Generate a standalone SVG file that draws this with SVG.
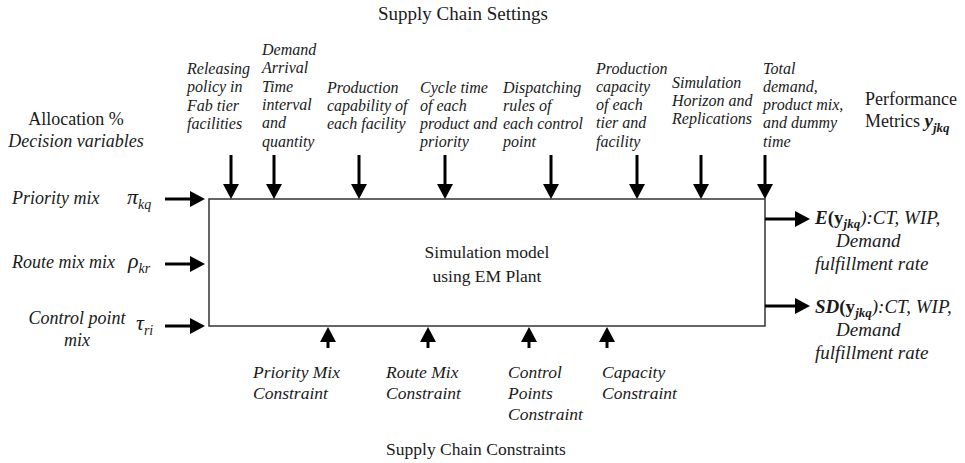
<svg xmlns="http://www.w3.org/2000/svg" width="965" height="463" viewBox="0 0 965 463">
<style>
text{font-family:"Liberation Serif","Times New Roman",serif;fill:#1a1a1a}
.t{font-size:16px;font-style:italic}
.l{font-size:18px;font-style:italic}
.r{font-size:19px;font-style:italic}
.h{font-size:18px}
.b{font-size:17.5px;font-style:italic}
.g{font-size:19px}
.gr{font-size:22px;font-style:italic}
.s{font-size:14px;font-style:italic}
.bi{font-weight:bold;font-style:italic}
.bo{font-weight:bold}
.ar{stroke:#000;stroke-width:3;fill:none}
</style>
<defs>
<marker id="ah" markerUnits="userSpaceOnUse" markerWidth="15" markerHeight="16" refX="2" refY="8" orient="auto" viewBox="0 0 15 16">
<path d="M0,0 L15,8 L0,16 z" fill="#000"/>
</marker>
</defs>
<rect width="965" height="463" fill="#fff"/>

<g id="model">
<rect x="209" y="199" width="556" height="127" fill="none" stroke="#333" stroke-width="1.5"/>
<text class="h" x="487" y="258" text-anchor="middle" style="font-size:17.5px">Simulation model</text>
<text class="h" x="487" y="282" text-anchor="middle" style="font-size:17.5px">using EM Plant</text>
</g>

<g id="connectors">
<line class="ar" x1="231" y1="155" x2="231" y2="186" marker-end="url(#ah)"/>
<line class="ar" x1="274" y1="155" x2="274" y2="186" marker-end="url(#ah)"/>
<line class="ar" x1="359" y1="155" x2="359" y2="186" marker-end="url(#ah)"/>
<line class="ar" x1="445" y1="155" x2="445" y2="186" marker-end="url(#ah)"/>
<line class="ar" x1="551" y1="155" x2="551" y2="186" marker-end="url(#ah)"/>
<line class="ar" x1="637" y1="155" x2="637" y2="186" marker-end="url(#ah)"/>
<line class="ar" x1="701" y1="155" x2="701" y2="186" marker-end="url(#ah)"/>
<line class="ar" x1="765" y1="155" x2="765" y2="186" marker-end="url(#ah)"/>
<line class="ar" x1="165" y1="199" x2="192" y2="199" marker-end="url(#ah)"/>
<line class="ar" x1="165" y1="264" x2="192" y2="264" marker-end="url(#ah)"/>
<line class="ar" x1="165" y1="326" x2="192" y2="326" marker-end="url(#ah)"/>
<line class="ar" x1="765" y1="219" x2="797" y2="219" marker-end="url(#ah)"/>
<line class="ar" x1="765" y1="306" x2="797" y2="306" marker-end="url(#ah)"/>
<line class="ar" x1="328" y1="348" x2="328" y2="340" marker-end="url(#ah)"/>
<line class="ar" x1="428" y1="348" x2="428" y2="340" marker-end="url(#ah)"/>
<line class="ar" x1="529" y1="348" x2="529" y2="340" marker-end="url(#ah)"/>
<line class="ar" x1="607" y1="348" x2="607" y2="340" marker-end="url(#ah)"/>
</g>

<g id="settings-title"><text class="g" x="463" y="20" text-anchor="middle">Supply Chain Settings</text></g>

<g id="releasing"><text class="t" x="187" y="74"><tspan x="187">Releasing</tspan><tspan x="187" dy="18.3">policy in</tspan><tspan x="187" dy="18.3">Fab tier</tspan><tspan x="187" dy="18.3">facilities</tspan></text></g>
<g id="demand"><text class="t" x="262" y="55"><tspan x="262">Demand</tspan><tspan x="262" dy="18.3">Arrival</tspan><tspan x="262" dy="18.3">Time</tspan><tspan x="262" dy="18.3">interval</tspan><tspan x="262" dy="18.3">and</tspan><tspan x="262" dy="18.3">quantity</tspan></text></g>
<g id="capability"><text class="t" x="327" y="92.5"><tspan x="327">Production</tspan><tspan x="327" dy="18.3">capability of</tspan><tspan x="327" dy="18.3">each facility</tspan></text></g>
<g id="cycle"><text class="t" x="420" y="92.5"><tspan x="420">Cycle time</tspan><tspan x="420" dy="18.3">of each</tspan><tspan x="420" dy="18.3">product and</tspan><tspan x="420" dy="18.3">priority</tspan></text></g>
<g id="dispatching"><text class="t" x="503" y="92.5"><tspan x="503">Dispatching</tspan><tspan x="503" dy="18.3">rules of</tspan><tspan x="503" dy="18.3">each control</tspan><tspan x="503" dy="18.3">point</tspan></text></g>
<g id="capacity"><text class="t" x="596" y="73.5"><tspan x="596">Production</tspan><tspan x="596" dy="18.3">capacity</tspan><tspan x="596" dy="18.3">of each</tspan><tspan x="596" dy="18.3">tier and</tspan><tspan x="596" dy="18.3">facility</tspan></text></g>
<g id="simulation"><text class="t" x="672" y="87.5"><tspan x="672">Simulation</tspan><tspan x="672" dy="18.3">Horizon and</tspan><tspan x="672" dy="18.3">Replications</tspan></text></g>
<g id="total"><text class="t" x="763" y="73.5"><tspan x="763">Total</tspan><tspan x="763" dy="18.3">demand,</tspan><tspan x="763" dy="18.3">product mix,</tspan><tspan x="763" dy="18.3">and dummy</tspan><tspan x="763" dy="18.3">time</tspan></text></g>

<g id="allocation">
<text class="h" x="76" y="125" text-anchor="middle">Allocation %</text>
<text class="l" x="76" y="147" text-anchor="middle">Decision variables</text>
</g>
<g id="priority-mix">
<text class="l" x="12" y="204">Priority mix</text>
<text class="gr" x="127" y="204">π<tspan class="s" dy="5">kq</tspan></text>
</g>
<g id="route-mix">
<text class="l" x="12" y="268">Route mix mix</text>
<text class="gr" x="128" y="268">ρ<tspan class="s" dy="5">kr</tspan></text>
</g>
<g id="control-mix">
<text class="l" x="77" y="324" text-anchor="middle">Control point</text>
<text class="l" x="77" y="346" text-anchor="middle">mix</text>
<text class="gr" x="136" y="330">τ<tspan class="s" dy="5">ri</tspan></text>
</g>

<g id="performance">
<text class="h" x="865" y="105">Performance</text>
<text class="h" x="865" y="127">Metrics <tspan class="bi" style="font-size:19px">y</tspan><tspan class="bi" style="font-size:13px" dy="5">jkq</tspan></text>
</g>
<g id="expected">
<text class="r" x="815" y="224"><tspan class="bi">E</tspan><tspan class="bo" style="font-style:normal">(y</tspan><tspan class="bi" style="font-size:13px" dy="4">jkq</tspan><tspan dy="-4">):CT, WIP,</tspan></text>
<text class="r" x="836" y="247">Demand</text>
<text class="r" x="815" y="270">fulfillment rate</text>
</g>
<g id="stddev">
<text class="r" x="815" y="313"><tspan class="bi">SD</tspan><tspan class="bo" style="font-style:normal">(y</tspan><tspan class="bi" style="font-size:13px" dy="4">jkq</tspan><tspan dy="-4">):CT, WIP,</tspan></text>
<text class="r" x="836" y="336">Demand</text>
<text class="r" x="815" y="359">fulfillment rate</text>
</g>

<g id="priority-constraint"><text class="b" x="253" y="378"><tspan x="253">Priority Mix</tspan><tspan x="253" dy="21">Constraint</tspan></text></g>
<g id="route-constraint"><text class="b" x="386" y="378"><tspan x="386">Route Mix</tspan><tspan x="386" dy="21">Constraint</tspan></text></g>
<g id="control-constraint"><text class="b" x="508" y="378"><tspan x="508">Control</tspan><tspan x="508" dy="21">Points</tspan><tspan x="508" dy="21">Constraint</tspan></text></g>
<g id="capacity-constraint"><text class="b" x="602" y="378"><tspan x="602">Capacity</tspan><tspan x="602" dy="21">Constraint</tspan></text></g>
<g id="constraints-title"><text class="h" x="476" y="455" text-anchor="middle" style="font-size:17.5px">Supply Chain Constraints</text></g>
</svg>
